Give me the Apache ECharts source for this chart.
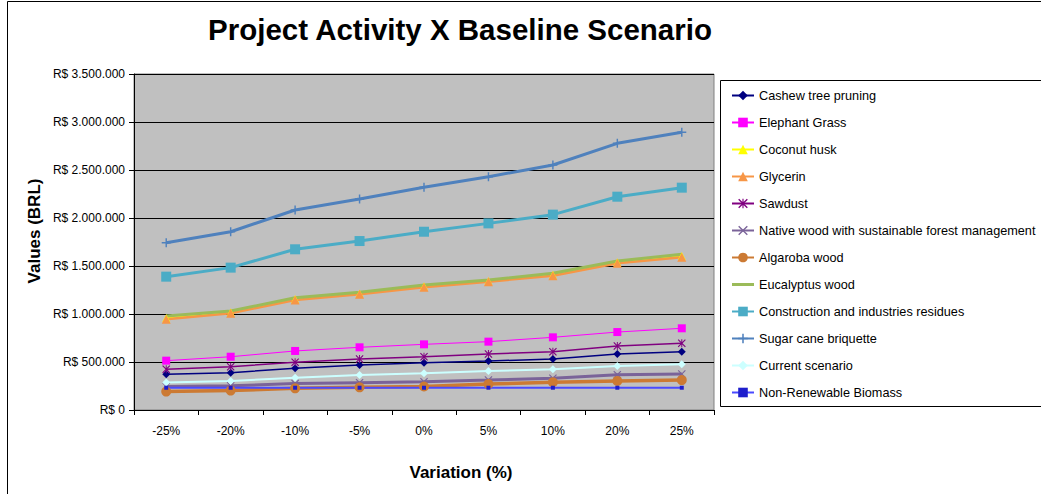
<!DOCTYPE html>
<html>
<head>
<meta charset="utf-8">
<script src="https://cdn.jsdelivr.net/npm/echarts@6/dist/echarts.min.js"></script>
<style>
html,body{margin:0;padding:0;background:#fff;}
#chart{width:1041px;height:494px;}
</style>
</head>
<body>
<div id="chart"></div>
<script>
// ---- data ----
const categories = ['-25%', '-20%', '-10%', '-5%', '0%', '5%', '10%', '20%', '25%'];
const yTicks = [0, 500000, 1000000, 1500000, 2000000, 2500000, 3000000, 3500000];

const cashew       = [372000, 389000, 434000, 469000, 493000, 510000, 531000, 583000, 607000];
const elephant     = [514000, 555000, 615000, 653000, 684000, 712000, 757000, 812000, 851000];
const coconut      = [958000, 1018000, 1156000, 1214000, 1288000, 1344000, 1410000, 1538000, 1604000];
const glycerin     = [945000, 1007000, 1146000, 1205000, 1278000, 1337000, 1399000, 1528000, 1590000];
const sawdust      = [424000, 451000, 497000, 531000, 555000, 583000, 607000, 667000, 695000];
const nativeWood   = [245000, 252000, 275000, 285000, 295000, 312000, 330000, 368000, 375000];
const algaroba     = [192000, 202000, 226000, 236000, 245000, 271000, 289000, 303000, 312000];
const eucalyptus   = [979000, 1031000, 1170000, 1226000, 1302000, 1354000, 1424000, 1552000, 1622000];
const construction = [1389000, 1483000, 1674000, 1760000, 1857000, 1944000, 2035000, 2222000, 2316000];
const sugarCane    = [1743000, 1857000, 2083000, 2198000, 2320000, 2430000, 2552000, 2778000, 2893000];
const currentScen  = [286000, 303000, 336000, 365000, 382000, 406000, 424000, 458000, 476000];
const nonRenewable = [232000, 232000, 232000, 232000, 232000, 232000, 232000, 232000, 232000];

const FONT = '"Liberation Sans", Arial, sans-serif';
const PLUS = 'path://M4.2,0H5.8V4.2H10V5.8H5.8V10H4.2V5.8H0V4.2H4.2Z';
const XMARK = 'path://M0,1L1,0L5,4L9,0L10,1L6,5L10,9L9,10L5,6L1,10L0,9L4,5Z';
const STAR = 'path://M0,1L1,0L5,4L9,0L10,1L6,5L10,9L9,10L5,6L1,10L0,9L4,5Z M4.4,0H5.6V10H4.4Z';
const LINE_ICON = 'path://M0,0H22V3H0Z';

function fmt(v) {
  return 'R$ ' + String(v).replace(/\B(?=(\d{3})+(?!\d))/g, '.');
}

function mk(name, data, color, width, symbol, size, fill) {
  return {
    name: name, type: 'line', data: data,
    symbol: symbol, symbolSize: size, showSymbol: symbol !== 'none',
    lineStyle: { color: color, width: width },
    itemStyle: { color: fill || color },
    emphasis: { disabled: true },
    animation: false
  };
}

const series = [
  mk('Cashew tree pruning', cashew, '#000080', 1.5, 'diamond', 8),
  mk('Elephant Grass', elephant, '#FF00FF', 1, 'rect', 8),
  mk('Coconut husk', coconut, '#FFFF00', 1.5, 'triangle', 8),
  mk('Glycerin', glycerin, '#F79646', 2.5, 'triangle', 9),
  mk('Sawdust', sawdust, '#800080', 1.5, STAR, 8),
  mk('Native wood with sustainable forest management', nativeWood, '#7A6399', 3, XMARK, 8),
  mk('Algaroba wood', algaroba, '#CC7A33', 3.5, 'circle', 10),
  mk('Eucalyptus wood', eucalyptus, '#9BBB59', 3, 'none', 0),
  mk('Construction and industries residues', construction, '#4BACC6', 3, 'rect', 10),
  mk('Sugar cane briquette', sugarCane, '#4F81BD', 3, PLUS, 9),
  mk('Current scenario', currentScen, '#CCFFFF', 2, 'diamond', 8),
  mk('Non-Renewable Biomass', nonRenewable, '#4A4AFF', 2, 'rect', 4, '#1E1ECC')
];

const chart = echarts.init(document.getElementById('chart'), null, { renderer: 'svg' });
chart.setOption({
  backgroundColor: '#ffffff',
  animation: false,
  textStyle: { fontFamily: FONT },
  title: [
    { text: 'Project Activity X Baseline Scenario', left: 455, top: 9, textAlign: 'center',
      textStyle: { fontFamily: FONT, fontSize: 29.5, fontWeight: 'bold', color: '#000' } },
    { text: 'Variation (%)', left: 456, top: 459, textAlign: 'center',
      textStyle: { fontFamily: FONT, fontSize: 17, fontWeight: 'bold', color: '#000' } }
  ],
  graphic: [
    { type: 'rect', shape: { x: 7.5, y: 1.5, width: 1200, height: 700 }, style: { fill: 'none', stroke: '#000', lineWidth: 1 }, silent: true, z: -1 },
    { type: 'rect', shape: { x: 720.5, y: 80.5, width: 330, height: 326 }, style: { fill: '#fff', stroke: '#000', lineWidth: 1 }, silent: true, z: 0 },
    { type: 'text', x: 34, y: 231, rotation: Math.PI / 2,
      style: { text: 'Values (BRL)', font: 'bold 17px ' + FONT, fill: '#000', textAlign: 'center', textVerticalAlign: 'middle' }, silent: true }
  ],
  legend: {
    orient: 'vertical', left: 731, top: 89, padding: 0,
    itemWidth: 22, itemHeight: 12, itemGap: 14,
    textStyle: { fontFamily: FONT, fontSize: 12.7, color: '#000', lineHeight: 13 },
    selectedMode: false, z: 5,
    data: series.map(s => s.name === 'Eucalyptus wood' ? { name: s.name, icon: LINE_ICON } : s.name)
  },
  grid: {
    left: 134, right: 327, top: 74, bottom: 84,
    show: true, backgroundColor: '#C0C0C0', borderColor: '#808080', borderWidth: 1
  },
  xAxis: {
    type: 'category', data: categories, boundaryGap: true,
    axisLine: { lineStyle: { color: '#000', width: 1 } },
    axisTick: { show: true, inside: false, length: 5, alignWithLabel: false, lineStyle: { color: '#000' } },
    axisLabel: { color: '#000', fontSize: 12, fontFamily: FONT, margin: 15 },
    splitLine: { show: false }
  },
  yAxis: {
    type: 'value', min: yTicks[0], max: yTicks[yTicks.length - 1], interval: yTicks[1] - yTicks[0],
    axisLine: { show: true, lineStyle: { color: '#000', width: 1 } },
    axisTick: { show: true, inside: false, length: 5, lineStyle: { color: '#000' } },
    axisLabel: { color: '#000', fontSize: 12, fontFamily: FONT, margin: 9, formatter: fmt },
    splitLine: { show: true, lineStyle: { color: '#000', width: 1 } }
  },
  series: series
});
</script>
</body>
</html>
